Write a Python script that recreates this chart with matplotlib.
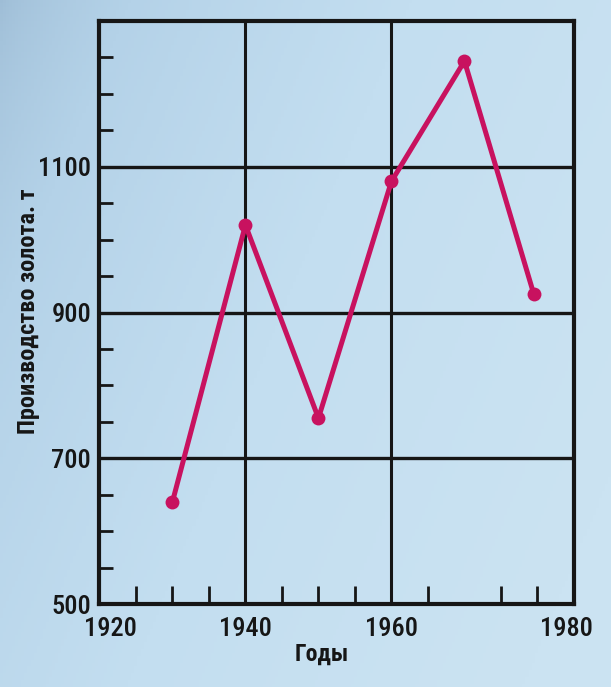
import numpy as np
import matplotlib
matplotlib.use("Agg")
import matplotlib.pyplot as plt
from matplotlib.colors import LinearSegmentedColormap

# Data
years = [1930, 1940, 1950, 1960, 1970, 1979.5]
production = [640, 1020, 755, 1080, 1245, 925]
xtick_pos = [1921.5, 1940, 1960, 1984]
xtick_labels = ["1920", "1940", "1960", "1980"]
xtick_minor = [1925, 1930, 1935, 1945, 1950, 1955, 1965, 1975, 1980]
ytick_major = [500, 700, 900, 1100]
ytick_labels = ["500", "700", "900", "1100"]
ytick_minor = [550, 600, 650, 750, 800, 850, 950, 1000, 1050, 1150, 1200, 1250]
xlabel = "Годы"
ylabel = "Производство золота. т"

FAM = ["Roboto Condensed", "DejaVu Sans"]
INK = "#161616"

W, H = 611, 687
fig = plt.figure(figsize=(W / 100, H / 100), dpi=100)

# background gradient
bg = fig.add_axes([0, 0, 1, 1], zorder=-10)
gx = np.linspace(0, 1, 200)
gy = np.linspace(0, 1, 200)
X, Y = np.meshgrid(gx, gy)
t = np.clip(0.75 * X + 0.35 * Y, 0, 1) ** 0.6  # Y=0 top
cmap = LinearSegmentedColormap.from_list("bgc", ["#9ebdd6", "#b4d2e8", "#c3def0", "#cbe3f2"])
bg.imshow(t, cmap=cmap, aspect="auto", extent=[0, 1, 1, 0], vmin=0, vmax=1)
bg.set_xlim(0, 1); bg.set_ylim(1, 0)
bg.axis("off")

AX_L, AX_R, AX_T, AX_B = 99.4, 574, 21, 604
ax = fig.add_axes([AX_L / W, 1 - AX_B / H, (AX_R - AX_L) / W, (AX_B - AX_T) / H])
ax.patch.set_alpha(0)
ax.set_xlim(1920, 1985)
ax.set_ylim(500, 1300)

for s in ax.spines.values():
    s.set_linewidth(3.0)
    s.set_color(INK)

for gx_ in [1940, 1960]:
    ax.axvline(gx_, color=INK, lw=2.2, zorder=1)
for gy_ in [700, 900, 1100]:
    ax.axhline(gy_, color=INK, lw=2.4, zorder=1)

ax.plot(years, production, color="#c8125f", lw=3.6, marker="o", ms=10,
        markeredgewidth=0, zorder=3, solid_capstyle="round")

ax.set_xticks(xtick_pos)
ax.set_xticklabels(xtick_labels)
ax.set_xticks(xtick_minor, minor=True)
ax.set_yticks(ytick_major)
ax.set_yticklabels(ytick_labels)
ax.set_yticks(ytick_minor, minor=True)
ax.tick_params(axis="both", which="major", length=0)
ax.tick_params(axis="x", which="major", pad=9)
ax.tick_params(axis="y", which="major", pad=6)
ax.tick_params(axis="x", which="minor", direction="in", length=13, width=2.0, color=INK)
ax.tick_params(axis="y", which="minor", direction="in", length=10, width=2.0, color=INK)

for lab in ax.get_xticklabels() + ax.get_yticklabels():
    lab.set_fontsize(19)
    lab.set_fontfamily(FAM)
    lab.set_fontstretch("condensed")
    lab.set_fontweight("medium")
    lab.set_color(INK)

ax.set_xlabel(xlabel, fontsize=17, color=INK, fontfamily=FAM,
              fontweight="semibold", fontstretch="condensed")
ax.xaxis.set_label_coords((322 - AX_L) / (AX_R - AX_L), -(643 - AX_B) / (AX_B - AX_T))
ax.set_ylabel(ylabel, fontsize=17.5, color=INK, fontfamily=FAM,
              fontweight="semibold", fontstretch="condensed")
ax.yaxis.set_label_coords(-(AX_L - 40) / (AX_R - AX_L), (AX_B - 311) / (AX_B - AX_T))

fig.savefig("out.png", dpi=100)
